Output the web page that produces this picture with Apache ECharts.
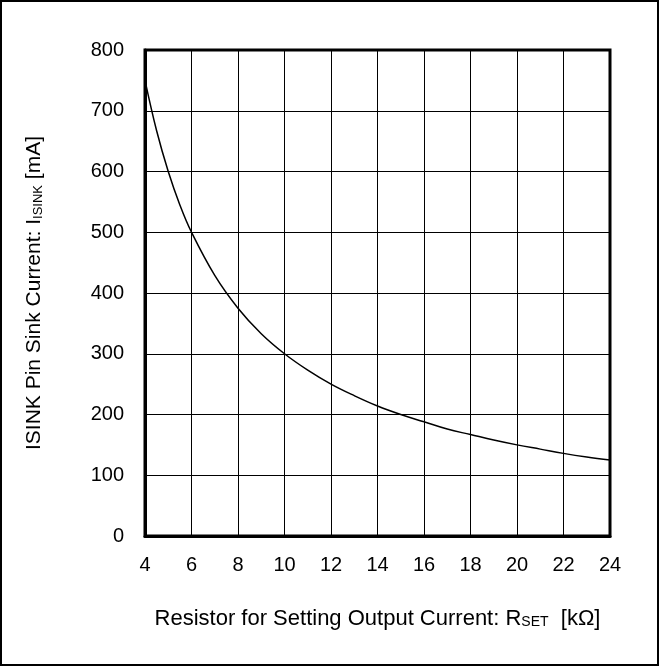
<!DOCTYPE html>
<html><head><meta charset="utf-8">
<script src="https://cdn.jsdelivr.net/npm/echarts@6/dist/echarts.min.js"></script>
<style>html,body{margin:0;padding:0;background:#fff}#c{width:659px;height:666px;box-sizing:border-box;border:2px solid #000}</style>
</head><body><div id="c"></div>
<script>
var rset = [4, 4.5, 5, 5.5, 6, 7, 8, 9, 10, 11, 12, 13, 14, 15, 16, 17, 18, 19, 20, 21, 22, 23, 24];
var isink = [750, 667, 600, 545, 500, 429, 375, 333, 300, 273, 250, 231, 214, 200, 188, 176, 167, 158, 150, 143, 136, 130, 125];
var xTitle = 'Resistor for Setting Output Current: R{sub|SET}  [kΩ]';
var yTitle = 'ISINK Pin Sink Current: I{sub|ISINK} [mA]';
var font = 'Liberation Sans, Arial, sans-serif';
var chart = echarts.init(document.getElementById('c'), null, {renderer:'canvas'});
var pts = rset.map(function(r,i){return [r, isink[i]];});
chart.setOption({
  animation:false,
  grid:{left:143, right:47, top:48, bottom:128, show:true, borderColor:'#000', borderWidth:3, containLabel:false},
  xAxis:{type:'value', min:4, max:24, interval:2,
    axisLine:{show:true, onZero:false, lineStyle:{color:'#000', width:3}},
    axisTick:{show:false},
    splitLine:{show:true, lineStyle:{color:'#000', width:1}},
    axisLabel:{color:'#000', fontSize:20, fontFamily:font, margin:19},
    name:xTitle, nameLocation:'middle', nameGap:72,
    nameTextStyle:{color:'#000', fontSize:22, fontFamily:font,
      rich:{sub:{fontSize:14, fontFamily:font, color:'#000', padding:[7,0,0,0]}}}
  },
  yAxis:{type:'value', min:0, max:800, interval:100,
    axisLine:{show:true, lineStyle:{color:'#000', width:3}},
    axisTick:{show:false},
    splitLine:{show:true, lineStyle:{color:'#000', width:1}},
    axisLabel:{color:'#000', fontSize:20, fontFamily:font, margin:21},
    name:yTitle, nameLocation:'middle', nameGap:100,
    nameTextStyle:{color:'#000', fontSize:21, fontFamily:font,
      rich:{sub:{fontSize:13, fontFamily:font, color:'#000', padding:[7,0,0,0]}}}
  },
  series:[{type:'line', data:pts, smooth:0.4, showSymbol:false, lineStyle:{color:'#000', width:1.5}}]
});
</script></body></html>
